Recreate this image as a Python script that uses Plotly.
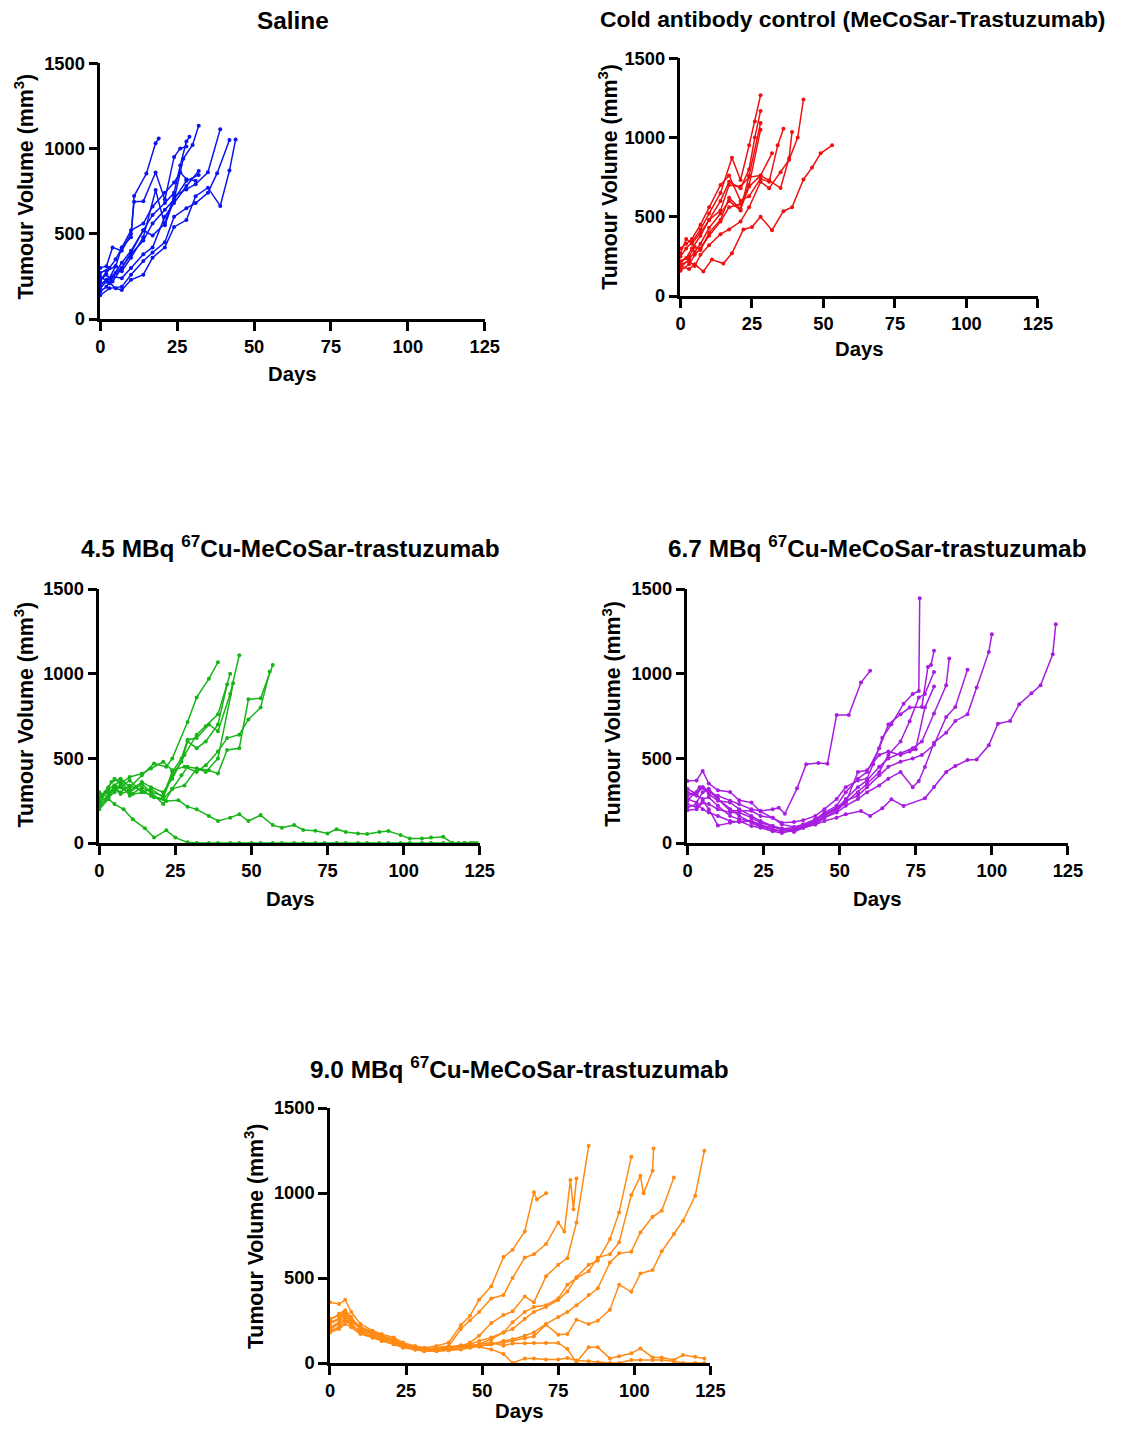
import plotly.graph_objects as go

W, H = 1121, 1432
FONT = "Liberation Sans, Arial, sans-serif"

# ---------------- data ----------------
saline_days = [
    [0, 3, 5, 7, 10, 11, 15, 18, 19],
    [0, 2, 4, 7, 10, 11, 14, 18, 21, 24, 26, 28],
    [0, 2, 4, 7, 10, 14, 17, 21, 24, 26, 28, 29],
    [0, 2, 4, 7, 10, 14, 17, 21, 24, 27, 30, 32],
    [0, 2, 4, 7, 10, 14, 17, 21, 24, 28, 32],
    [0, 2, 5, 7, 10, 14, 18, 21, 24, 28, 32],
    [0, 3, 5, 7, 10, 14, 17, 21, 24, 28, 31, 35, 39],
    [0, 3, 7, 10, 14, 17, 21, 24, 28, 31, 35, 38, 42],
    [0, 2, 5, 7, 10, 14, 17, 21, 24, 28, 31, 35, 39, 42, 44],
    [0, 3, 5, 7, 10, 14, 17, 21, 24, 26, 28, 31],
]
saline_vols = [
    [200, 240, 310, 420, 480, 721, 853, 1031, 1058],
    [300, 310, 420, 400, 500, 688, 690, 859, 700, 950, 1000, 1011],
    [180, 220, 250, 330, 400, 520, 610, 680, 740, 900, 1040, 1068],
    [230, 260, 220, 300, 380, 460, 560, 640, 700, 940, 1020, 1133],
    [160, 190, 250, 240, 300, 380, 420, 600, 680, 780, 868],
    [220, 280, 310, 280, 360, 480, 756, 550, 700, 810, 845],
    [250, 210, 270, 300, 390, 520, 490, 560, 720, 760, 790, 860, 1113],
    [140, 180, 190, 260, 340, 390, 450, 600, 650, 680, 740, 855, 1049],
    [200, 230, 180, 170, 230, 260, 360, 420, 540, 580, 720, 770, 663, 870, 1052],
    [270, 300, 350, 420, 520, 560, 660, 740, 800, 860, 820, 810],
]

cold_days = [
    [0, 3, 5, 8, 11, 15, 18, 22, 25, 28, 32, 36, 39, 43, 46, 49, 53],
    [0, 2, 4, 7, 10, 14, 18, 21, 24, 26, 28],
    [0, 2, 4, 7, 10, 14, 17, 21, 24, 26, 28],
    [0, 3, 5, 7, 10, 14, 17, 21, 24, 28],
    [0, 3, 5, 7, 10, 14, 17, 21, 24, 28],
    [0, 2, 4, 7, 10, 14, 17, 21, 24, 28, 31, 34, 36],
    [0, 3, 5, 7, 10, 14, 17, 21, 24, 28, 31, 35, 38, 39],
    [0, 3, 5, 7, 10, 14, 17, 21, 24, 28, 31, 35, 38, 41, 43],
    [0, 2, 4, 7, 10, 14, 17, 21, 24, 28, 32],
]
cold_vols = [
    [190, 170, 200, 155, 230, 205, 270, 420, 435, 500, 415, 535, 560, 735, 810, 900, 950],
    [250, 300, 340, 420, 520, 650, 872, 732, 950, 1100, 1266],
    [210, 240, 300, 380, 480, 600, 720, 680, 800, 1000, 1167],
    [180, 230, 280, 330, 430, 520, 600, 540, 760, 1091],
    [160, 200, 260, 300, 380, 470, 560, 580, 700, 1049],
    [300, 330, 360, 450, 560, 700, 760, 600, 630, 740, 720, 950, 1055],
    [220, 250, 310, 290, 400, 480, 620, 550, 690, 760, 730, 681, 871, 1034],
    [200, 220, 190, 260, 320, 390, 420, 470, 560, 720, 680, 780, 860, 1000, 1239],
    [270, 360, 330, 400, 480, 540, 700, 690, 750, 760, 900],
]

mbq45_days = [
    [0, 2, 4, 7, 10, 14, 18, 22, 24, 29, 32, 36, 39],
    [0, 3, 5, 7, 10, 14, 17, 21, 24, 27, 29, 32, 36, 39, 43, 46],
    [0, 3, 5, 7, 10, 14, 17, 21, 24, 27, 29, 32, 35, 39, 42],
    [0, 3, 5, 7, 10, 14, 17, 21, 24, 27, 29, 32, 35, 39, 44],
    [0, 3, 5, 7, 10, 14, 17, 21, 24, 28, 32, 36, 39, 42, 46, 49, 53, 57],
    [0, 3, 5, 7, 10, 14, 17, 21, 24, 28, 32, 35, 39, 42, 46, 49, 53, 56],
    [0, 3, 5, 8, 11, 15, 18, 22, 25, 29, 32, 36, 39, 43, 46, 50, 53, 57, 60, 64,
     67, 71, 74, 78, 81, 85, 88, 92, 95, 99, 102, 106, 109, 113, 116, 120, 123],
    [0, 3, 5, 8, 11, 15, 18, 22, 26, 29, 32, 36, 39, 43, 46, 49, 53, 57, 60, 64,
     67, 71, 75, 78, 81, 85, 88, 92, 95, 99, 102, 106, 109, 113, 116, 118, 120, 122, 124],
    [0, 3, 5, 7, 10, 14, 17, 21, 24, 28, 32, 35, 39, 43],
]
mbq45_vols = [
    [220, 300, 360, 380, 330, 400, 470, 450, 500, 715, 860, 970, 1068],
    [250, 320, 340, 370, 300, 350, 300, 280, 420, 500, 610, 620, 700, 660, 880, 1109],
    [200, 260, 340, 330, 370, 300, 320, 270, 400, 480, 600, 560, 600, 700, 936],
    [300, 270, 300, 350, 280, 330, 300, 230, 320, 400, 450, 440, 420, 500, 944],
    [210, 280, 330, 300, 340, 310, 280, 260, 320, 340, 440, 430, 410, 550, 560, 849, 855, 1052],
    [260, 330, 380, 350, 390, 410, 440, 480, 430, 450, 420, 460, 540, 620, 640, 730, 800, 1013],
    [229, 260, 230, 199, 140, 87, 32, 75, 32, 4, 0, 0, 0, 0, 0, 0, 0, 0, 0, 0,
     0, 0, 0, 0, 0, 0, 0, 0, 0, 0, 0, 0, 0, 0, 0, 0, 0],
    [280, 300, 330, 320, 290, 300, 270, 248, 252, 215, 199, 160, 130, 150, 170, 130, 165, 106, 90, 106,
     77, 73, 57, 82, 65, 57, 53, 65, 71, 47, 27, 27, 33, 37, 0, 0, 0, 0, 0],
    [240, 280, 320, 290, 310, 360, 330, 300, 380, 520, 640, 690, 760, 1000],
]

mbq67_days = [
    [0, 2, 4, 7, 10, 14, 17, 21, 24, 28, 30, 32, 36, 39, 43, 46, 49, 53, 57, 60],
    [0, 3, 5, 7, 10, 14, 17, 21, 24, 28, 31, 35, 38, 42, 45, 49, 52, 56, 59, 61, 64, 67, 71, 74, 76, 76.3],
    [0, 3, 5, 7, 10, 14, 17, 21, 24, 28, 31, 35, 38, 42, 45, 49, 52, 56, 59, 63, 66, 70, 73, 77, 79, 80, 81],
    [0, 3, 5, 7, 10, 14, 17, 21, 24, 28, 31, 35, 38, 42, 45, 49, 52, 56, 59, 63, 66, 70, 73, 76, 78, 81],
    [0, 3, 5, 7, 10, 14, 17, 21, 24, 28, 31, 35, 38, 42, 45, 49, 52, 56, 59, 63, 66, 70, 73, 75, 78, 81],
    [0, 3, 5, 7, 10, 14, 17, 21, 24, 28, 31, 35, 38, 42, 45, 49, 52, 56, 59, 63, 66, 70, 74, 77, 81, 85, 86],
    [0, 3, 5, 7, 10, 14, 17, 21, 24, 28, 31, 35, 38, 42, 45, 49, 52, 56, 59, 63, 66, 70, 74, 77, 81, 85, 88, 92],
    [0, 3, 5, 7, 10, 14, 17, 21, 24, 28, 31, 35, 38, 42, 45, 49, 52, 56, 59, 63, 66, 70, 74, 76, 78, 81, 85,
     88, 92, 95, 99, 100],
    [0, 3, 5, 7, 10, 14, 17, 21, 24, 28, 31, 35, 38, 42, 45, 49, 52, 57, 60, 64, 67, 71, 78, 81, 85, 88, 92,
     95, 99, 102, 106, 109, 113, 116, 120, 121],
]
mbq67_vols = [
    [250, 290, 330, 300, 280, 250, 230, 200, 190, 200, 209, 173, 323, 465, 473, 469, 756, 756, 948, 1017],
    [367, 370, 426, 351, 312, 302, 253, 239, 186, 150, 120, 125, 135, 160, 200, 260, 330, 370, 380, 465,
     622, 701, 823, 880, 898, 1446],
    [230, 210, 250, 200, 104, 120, 130, 100, 90, 70, 60, 75, 110, 140, 180, 220, 300, 380, 420, 560,
     700, 760, 800, 804, 1040, 1052, 1135],
    [193, 200, 240, 230, 200, 180, 180, 150, 120, 100, 85, 80, 100, 130, 170, 200, 240, 300, 350, 420,
     520, 600, 720, 860, 880, 1010],
    [280, 300, 330, 310, 260, 200, 160, 120, 95, 80, 70, 75, 90, 110, 150, 190, 240, 420, 430, 520,
     540, 520, 540, 554, 800, 924],
    [320, 290, 330, 290, 250, 240, 200, 160, 130, 100, 85, 90, 100, 120, 160, 200, 260, 330, 370, 450,
     500, 530, 560, 600, 765, 932, 1090],
    [260, 240, 300, 320, 260, 190, 190, 190, 160, 150, 110, 95, 110, 140, 170, 210, 250, 280, 330, 400,
     450, 480, 500, 520, 580, 745, 804, 1023],
    [210, 230, 200, 180, 160, 130, 125, 130, 110, 80, 70, 90, 95, 120, 150, 180, 220, 260, 300, 340,
     380, 420, 330, 366, 449, 593, 652, 721, 760, 918, 1129, 1233],
    [300, 280, 260, 270, 220, 160, 140, 130, 100, 95, 80, 65, 90, 110, 130, 150, 170, 189, 160, 205,
     258, 219, 264, 331, 420, 455, 490, 494, 577, 705, 721, 820, 885, 932, 1115, 1292],
]

mbq90_days = [
    [0, 3, 5, 7, 10, 14, 17, 21, 24, 28, 31, 35, 39, 43, 46, 49, 53, 57, 60, 64, 67, 68, 71],
    [0, 3, 5, 7, 10, 14, 17, 21, 24, 28, 31, 35, 39, 43, 46, 49, 53, 57, 60, 64, 67, 71, 75, 77, 79, 80, 81],
    [0, 3, 5, 7, 10, 14, 17, 21, 24, 28, 31, 35, 39, 43, 46, 49, 53, 57, 60, 64, 67, 71, 75, 78, 81, 85],
    [0, 3, 5, 7, 10, 14, 17, 21, 24, 28, 31, 35, 39, 43, 46, 49, 53, 57, 60, 64, 67, 71, 75, 78, 81, 85,
     88, 92, 95, 99],
    [0, 3, 5, 7, 10, 14, 17, 21, 24, 28, 31, 35, 39, 43, 46, 49, 53, 57, 60, 64, 67, 71, 75, 78, 81, 85,
     88, 92, 95, 99, 102, 103, 106, 106.3],
    [0, 3, 5, 7, 10, 14, 17, 21, 24, 28, 31, 35, 39, 43, 46, 49, 53, 57, 60, 64, 67, 71, 75, 78, 81, 85,
     88, 92, 95, 99, 102, 106, 109, 113],
    [0, 3, 5, 7, 10, 14, 17, 21, 24, 28, 31, 35, 39, 43, 46, 49, 53, 57, 60, 64, 67, 71, 75, 78, 81, 85,
     88, 92, 95, 99, 102, 106, 109, 113, 116, 120, 123],
    [0, 3, 5, 7, 10, 14, 17, 21, 24, 28, 31, 35, 39, 43, 46, 49, 53, 57, 60, 64, 67, 71, 75, 78, 81, 85,
     88, 92, 95, 99, 102, 106, 109, 113, 116, 120, 123],
    [0, 3, 5, 7, 10, 14, 17, 21, 24, 28, 31, 35, 39, 43, 46, 49, 53, 57, 60, 64, 67, 71, 75, 78, 81, 85,
     88, 92, 95, 99, 102, 106, 109, 113, 116, 120, 123],
]
mbq90_vols = [
    [357, 347, 372, 300, 230, 190, 170, 150, 120, 100, 90, 100, 120, 223, 278, 372, 451, 623, 666, 774,
     1004, 962, 998],
    [230, 260, 300, 240, 210, 180, 160, 140, 110, 90, 80, 90, 100, 200, 250, 300, 380, 400, 500, 620,
     640, 700, 827, 774, 1076, 905, 1086],
    [250, 290, 310, 270, 200, 170, 150, 130, 100, 80, 70, 80, 90, 100, 120, 160, 235, 282, 304, 392,
     357, 510, 578, 617, 827, 1278],
    [200, 230, 260, 220, 190, 160, 140, 120, 100, 85, 75, 70, 80, 90, 100, 110, 140, 180, 200, 260,
     300, 330, 370, 420, 504, 578, 602, 729, 886, 1213],
    [210, 240, 280, 230, 180, 150, 130, 110, 90, 80, 70, 75, 85, 95, 110, 130, 150, 180, 240, 300,
     330, 340, 380, 460, 500, 540, 620, 640, 710, 988, 1101, 998, 1131, 1262],
    [180, 200, 230, 210, 170, 150, 130, 110, 95, 80, 70, 70, 75, 85, 95, 100, 110, 130, 140, 160,
     180, 230, 270, 300, 340, 400, 440, 592, 645, 655, 768, 860, 896, 1092],
    [190, 210, 250, 220, 180, 150, 140, 120, 100, 85, 75, 70, 75, 80, 90, 100, 110, 120, 130, 145,
     157, 225, 167, 170, 255, 229, 249, 314, 461, 419, 527, 547, 657, 759, 837, 984, 1248],
    [240, 260, 290, 250, 200, 170, 150, 130, 105, 90, 80, 85, 95, 105, 100, 110, 120, 102, 115, 116,
     118, 118, 118, 82, 4, 92, 92, 27, 40, 57, 86, 33, 33, 18, 47, 37, 27],
    [260, 280, 300, 260, 210, 180, 160, 135, 110, 95, 85, 85, 90, 100, 110, 95, 80, 53, 0, 27,
     27, 20, 20, 30, 15, 10, 5, 0, 0, 18, 18, 18, 18, 10, 0, 0, 0],
]

x_ticks = [0, 25, 50, 75, 100, 125]
y_ticks = [0, 500, 1000, 1500]

titles = [
    "Saline",
    "Cold antibody control (MeCoSar-Trastuzumab)",
    "4.5 MBq <sup>67</sup>Cu-MeCoSar-trastuzumab",
    "6.7 MBq <sup>67</sup>Cu-MeCoSar-trastuzumab",
    "9.0 MBq <sup>67</sup>Cu-MeCoSar-trastuzumab",
]
x_title = "Days"
y_title = "Tumour Volume (mm<sup>3</sup>)"

groups = [
    (saline_days, saline_vols, "#0a14f0"),
    (cold_days, cold_vols, "#f01010"),
    (mbq45_days, mbq45_vols, "#18b418"),
    (mbq67_days, mbq67_vols, "#a81ee0"),
    (mbq90_days, mbq90_vols, "#ff8a14"),
]

# ---------------- layout geometry (target pixels in the photographed page) ----------------
panels = [  # (x0, x1, ybottom, ytop)
    (98, 483, 318, 62),
    (679, 1037, 295, 57),
    (97, 478, 842, 588),
    (686, 1067, 842, 588),
    (328, 709, 1362, 1107),
]
title_pos = [(291, 19), (851, 18), (288, 546), (876, 546), (518, 1067)]
title_size = [24, 22.5, 24, 24, 24]
xlab_pos = [(290, 373), (858, 348), (288, 898), (876, 898), (518, 1410)]
ylab_pos = [(22, 185), (607, 176), (22, 713), (610, 713), (252, 1235)]

# the photographed page comes out slightly shrunk/offset; pre-compensate
SX, BX, SY, BY = 0.9835, 2.6, 0.9854, 9.9
FS = 1 / 0.984


def px(x):
    return ((x - BX) / SX) / W


def py(y):
    return 1 - ((y - BY) / SY) / H


fig = go.Figure()
tickfont = dict(family=FONT, size=18 * FS, color="black", weight="bold")

layout = dict(
    width=W, height=H,
    margin=dict(l=0, r=0, t=0, b=0),
    paper_bgcolor="white", plot_bgcolor="white",
    showlegend=False,
    font=dict(family=FONT, color="black"),
)
annotations = []

for i, ((days, vols, color), (x0, x1, yb, yt)) in enumerate(zip(groups, panels)):
    n = i + 1
    xa = "x" if n == 1 else f"x{n}"
    ya = "y" if n == 1 else f"y{n}"
    for d, v in zip(days, vols):
        fig.add_trace(go.Scatter(
            x=d, y=v, mode="lines+markers", xaxis=xa, yaxis=ya,
            line=dict(color=color, width=1.5),
            marker=dict(color=color, size=4),
            cliponaxis=False, hoverinfo="skip",
        ))
    axcommon = dict(showline=True, linecolor="black", linewidth=2.5, ticks="outside",
                    ticklen=9, tickwidth=2.5, tickcolor="black", showgrid=False,
                    zeroline=False, tickfont=tickfont)
    layout["xaxis" if n == 1 else f"xaxis{n}"] = dict(
        domain=[px(x0), px(x1)], range=[0, 125], tickvals=x_ticks,
        anchor=ya, **axcommon)
    layout["yaxis" if n == 1 else f"yaxis{n}"] = dict(
        domain=[py(yb), py(yt)], range=[0, 1500], tickvals=y_ticks,
        anchor=xa, **axcommon)

    tx, ty = title_pos[i]
    annotations.append(dict(text=f"<b>{titles[i]}</b>", x=px(tx), y=py(ty), xref="paper", yref="paper",
                            xanchor="center", yanchor="middle", showarrow=False,
                            font=dict(family=FONT, size=title_size[i] * FS, color="black")))
    lx, ly = xlab_pos[i]
    annotations.append(dict(text=f"<b>{x_title}</b>", x=px(lx), y=py(ly), xref="paper", yref="paper",
                            xanchor="center", yanchor="middle", showarrow=False,
                            font=dict(family=FONT, size=20 * FS, color="black")))
    yx, yy = ylab_pos[i]
    annotations.append(dict(text=f"<b>{y_title}</b>", x=px(yx), y=py(yy), xref="paper", yref="paper",
                            xanchor="center", yanchor="middle", showarrow=False, textangle=-90,
                            font=dict(family=FONT, size=21 * FS, color="black")))

layout["annotations"] = annotations
fig.update_layout(**layout)
# remove the page's default body margin so the figure sits at the window origin
fig.write_html(
    "out.html",
    config={"displayModeBar": False},
    post_script="document.body.style.margin='0';document.body.style.overflow='hidden';"
                "document.documentElement.style.overflow='hidden';",
)
